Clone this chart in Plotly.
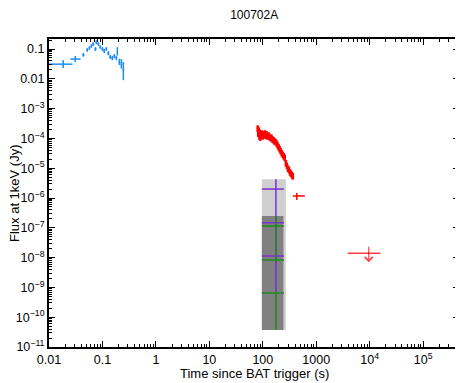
import numpy as np
import plotly.graph_objects as go

# BAT (blue)
bat_t = [0.0184, 0.031, 0.044, 0.052, 0.057, 0.062, 0.067, 0.074, 0.077, 0.084, 0.091, 0.100,
         0.108, 0.118, 0.129, 0.140, 0.153, 0.167, 0.182, 0.190, 0.207, 0.226, 0.246]
bat_t_minus = [0.0084, 0.006, 0.002, 0.002, 0.002, 0.002, 0.003, 0.003, 0.003, 0.003, 0.003, 0.004,
               0.004, 0.004, 0.005, 0.005, 0.006, 0.006, 0.007, 0.004, 0.007, 0.008, 0.008]
bat_t_plus = [0.0091, 0.008, 0.002, 0.002, 0.002, 0.002, 0.003, 0.003, 0.003, 0.003, 0.003, 0.004,
              0.004, 0.004, 0.005, 0.005, 0.006, 0.006, 0.007, 0.004, 0.007, 0.008, 0.008]
bat_flux = [0.031, 0.046, 0.063, 0.093, 0.108, 0.126, 0.147, 0.100, 0.170, 0.147, 0.117, 0.100,
            0.086, 0.100, 0.073, 0.054, 0.050, 0.058, 0.050, 0.080, 0.037, 0.031, 0.020]
bat_flux_minus = [0.008, 0.010, 0.008, 0.012, 0.014, 0.016, 0.020, 0.014, 0.025, 0.020, 0.016, 0.014,
                  0.012, 0.014, 0.011, 0.008, 0.008, 0.009, 0.008, 0.020, 0.008, 0.009, 0.011]
bat_flux_plus = [0.012, 0.012, 0.010, 0.014, 0.016, 0.018, 0.022, 0.016, 0.028, 0.022, 0.018, 0.016,
                 0.014, 0.016, 0.012, 0.010, 0.009, 0.010, 0.009, 0.035, 0.010, 0.015, 0.017]

# XRT (red)
xrt_t = [80, 82, 84, 86, 88, 90, 93, 96, 99, 102, 106, 110, 114, 118, 123, 128, 133, 139, 145, 151,
         158, 165, 173, 181, 189, 197, 206, 215, 225, 235, 246, 257, 270, 282, 295, 308, 322, 336, 350, 365]
xrt_flux = [2.2e-4, 1.5e-4, 1.9e-4, 1.2e-4, 1.6e-4, 1.1e-4, 1.3e-4, 1.5e-4, 1.2e-4, 1.4e-4,
            1.3e-4, 1.5e-4, 1.25e-4, 1.4e-4, 1.2e-4, 1.3e-4, 1.15e-4, 1.05e-4, 1.1e-4, 9.5e-5,
            9.0e-5, 8.2e-5, 7.8e-5, 7.0e-5, 6.0e-5, 5.2e-5, 4.5e-5, 3.9e-5, 3.3e-5, 2.9e-5,
            2.6e-5, 2.3e-5, 1.5e-5, 1.25e-5, 1.0e-5, 9.0e-6, 7.5e-6, 6.8e-6, 6.0e-6, 5.5e-6]
xrt_t_err = [1.5, 1.5, 1.5, 1.5, 1.5, 1.5, 2, 2, 2, 2, 2, 2, 2, 2, 3, 3, 3, 3, 3, 3,
             4, 4, 4, 4, 4, 4, 5, 5, 5, 5, 6, 6, 6, 6, 7, 7, 7, 7, 8, 8]
xrt_rel_err = [0.25] * len(xrt_t)

# late XRT point and upper limit
xrt2_t = [433]
xrt2_t_minus = [70]
xrt2_t_plus = [178]
xrt2_flux = [1.17e-6]
xrt2_flux_minus = [0.32e-6]
xrt2_flux_plus = [0.31e-6]

ul_t = [9600]
ul_t_minus = [5730]
ul_t_plus = [6300]
ul_flux = [1.4e-8]
ul_top = [2.6e-8]
ul_tip = [7.0e-9]

# UVOT shaded boxes
box_light_t = [96, 270]
box_light_flux = [3.7e-11, 4.3e-6]
box_dark_t = [96, 243]
box_dark_flux = [3.7e-11, 2.5e-7]

# UVOT crosses
uv_t = [176, 176, 176]
uv_t_minus = [80, 80, 80]
uv_t_plus = [72, 72, 72]
purple_flux = [2.0e-6, 1.48e-7, 1.13e-8]
purple_minus = [1.85e-6, 1.37e-7, 1.06e-8]
purple_plus = [2.3e-6, 0.5e-7, 0.2e-8]
green_flux = [1.15e-7, 8.3e-9, 6.5e-10]
green_minus = [1.07e-7, 1.0e-9, 6.13e-10]
green_plus = [1.35e-7, 1.0e-9, 0.0]

x_tickvals = [0.01, 0.1, 1, 10, 100, 1000, 1e4, 1e5]
x_ticktext = ['0.01', '0.1', '1', '10', '100', '1000', '10<sup>4</sup>', '10<sup>5</sup>']
y_tickvals = [10.0 ** -k for k in range(1, 12)]
y_ticktext = ['0.1', '0.01'] + ['10<sup>\u2212%d</sup>' % k for k in range(3, 12)]


def minor_vals(lo, hi):
    return [m * 10.0 ** d for d in range(lo, hi) for m in range(2, 10)]


def box_trace(ts, fs, color):
    return go.Scatter(x=[ts[0], ts[1], ts[1], ts[0], ts[0]],
                      y=[fs[0], fs[0], fs[1], fs[1], fs[0]],
                      mode='lines', fill='toself', fillcolor=color,
                      line=dict(width=0), hoverinfo='skip')


def err_trace(x, xm, xp, y, ym, yp, color, width=1.5):
    return go.Scatter(
        x=x, y=y, mode='markers', marker=dict(size=1, color=color),
        error_x=dict(type='data', symmetric=False, array=xp, arrayminus=xm,
                     color=color, thickness=width, width=0),
        error_y=dict(type='data', symmetric=False, array=yp, arrayminus=ym,
                     color=color, thickness=width, width=0))


fig = go.Figure()
fig.add_trace(box_trace(box_light_t, box_light_flux, 'rgb(208,208,208)'))
fig.add_trace(box_trace(box_dark_t, box_dark_flux, 'rgb(128,128,128)'))
fig.add_trace(err_trace(uv_t, uv_t_minus, uv_t_plus, purple_flux, purple_minus, purple_plus, '#7a2ed6'))
fig.add_trace(err_trace(uv_t, uv_t_minus, uv_t_plus, green_flux, green_minus, green_plus, '#1f8a1f'))

xrt_flux_err = [f * r for f, r in zip(xrt_flux, xrt_rel_err)]
fig.add_trace(err_trace(xrt_t, xrt_t_err, xrt_t_err, xrt_flux, xrt_flux_err, xrt_flux_err, '#ff0000', 2.5))
fig.add_trace(err_trace(xrt2_t, xrt2_t_minus, xrt2_t_plus, xrt2_flux, xrt2_flux_minus,
                        xrt2_flux_plus, '#ff0000'))
fig.add_trace(err_trace(ul_t, ul_t_minus, ul_t_plus, ul_flux, [0], [0], 'rgba(255,0,0,0.75)'))
fig.add_trace(err_trace(bat_t, bat_t_minus, bat_t_plus, bat_flux, bat_flux_minus, bat_flux_plus, '#1a8cff'))

# upper-limit arrow
fig.add_annotation(x=np.log10(ul_t[0]), y=np.log10(ul_tip[0]),
                   ax=np.log10(ul_t[0]), ay=np.log10(ul_top[0]),
                   xref='x', yref='y', axref='x', ayref='y',
                   showarrow=True, arrowhead=4, arrowsize=1.3, arrowwidth=1.2,
                   arrowcolor='rgba(255,0,0,0.75)', text='')

# axis titles placed by hand so the plot area stays fixed
fig.add_annotation(text='Time since BAT trigger (s)', xref='paper', yref='paper',
                   x=0.5, y=0, yshift=-26, yanchor='middle', showarrow=False,
                   font=dict(size=13))
fig.add_annotation(text='Flux at 1keV (Jy)', xref='paper', yref='paper',
                   x=0, y=0.5, xshift=-35, xanchor='center', textangle=-90, showarrow=False,
                   font=dict(size=13))

axis_common = dict(type='log', showline=True, linecolor='black', linewidth=2, mirror='ticks',
                   ticks='inside', ticklen=6, tickwidth=1, tickcolor='black', showgrid=False,
                   zeroline=False, automargin=False, tickfont=dict(size=12.5, color='black'))

fig.update_xaxes(range=[-2, 5.67], tickvals=x_tickvals, ticktext=x_ticktext,
                 minor=dict(ticks='inside', ticklen=3, tickcolor='black', tickvals=minor_vals(-2, 6)),
                 **axis_common)
fig.update_yaxes(range=[-11, -0.664], tickvals=y_tickvals, ticktext=y_ticktext,
                 minor=dict(ticks='inside', ticklen=3, tickcolor='black', tickvals=minor_vals(-11, 0)),
                 **axis_common)

# the page body adds an 8px offset, so the figure is drawn 8px smaller
fig.update_layout(
    width=455, height=375,
    margin=dict(l=41, r=4, t=31, b=36),
    plot_bgcolor='white', paper_bgcolor='white',
    showlegend=False,
    font=dict(family='Liberation Sans, Arial, Helvetica, sans-serif', color='black'),
    title=dict(text='100702A', x=0.541, xanchor='center', y=1 - 7 / 375, yanchor='middle',
               font=dict(size=12)),
)

fig.write_html("out.html")
